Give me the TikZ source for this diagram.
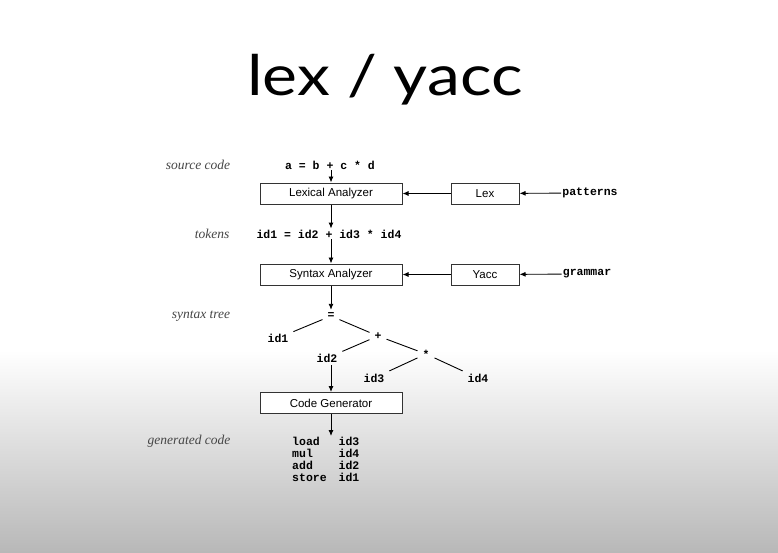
\documentclass[tikz,border=0pt]{standalone}
\usepackage{fontspec}
\setmainfont{Liberation Serif}
\newfontfamily\titlefont{Lato}[FakeStretch=1.18]
\newfontfamily\boxfont{Liberation Sans}
\newfontfamily\codefont{Liberation Mono}
\usetikzlibrary{arrows.meta,positioning}

\definecolor{bgbottom}{RGB}{184,184,184}
\definecolor{lblgray}{RGB}{70,70,70}

\begin{document}
\begin{tikzpicture}[
  x=1pt, y=-1pt,
  lbl/.style={font=\fontsize{13.5}{15}\selectfont\itshape, text=lblgray, inner sep=1pt},
  code/.style={font=\fontsize{11.5}{12}\selectfont\codefont\bfseries, inner sep=1pt},
  tnode/.style={font=\fontsize{11.5}{12}\selectfont\codefont\bfseries, inner sep=3pt},
  box/.style={rectangle, draw=black!80, fill=white, line width=1pt, minimum height=21pt, inner sep=0pt, font=\fontsize{11.5}{13}\selectfont\boxfont},
  arr/.style={-{Latex[length=6pt,width=5pt]}, line width=0.9pt},
  edge/.style={line width=0.9pt, shorten <=2pt, shorten >=2pt}
]
  % background
  \useasboundingbox (0,0) rectangle (778,552);
  \fill[white] (0,0) rectangle (778,351);
  \shade[top color=white, bottom color=bgbottom] (0,350) rectangle (778,552);

  \node[font=\fontsize{56}{64}\selectfont\titlefont, anchor=base] (title) at (385,95) {lex / yacc};

  % phases
  \node[lbl] (srcl) at (198,165) {source code};
  \node[code] (src) at (330,165) {a = b + c * d};
  \node[box, minimum width=142pt] (lexa) at (331,193.5) {Lexical Analyzer};
  \node[box, minimum width=68pt] (lex) at (485,193.5) {Lex};
  \node[code] (pat) at (590,193) {patterns};

  \node[lbl] (tokl) at (212,234) {tokens};
  \node[code] (tok) at (329,234) {id1 = id2 + id3 * id4};
  \node[box, minimum width=142pt] (syn) at (331,274.5) {Syntax Analyzer};
  \node[box, minimum width=68pt] (yacc) at (485,274.5) {Yacc};
  \node[code] (gram) at (587,274) {grammar};

  % syntax tree
  \node[lbl] (treel) at (201,316) {syntax tree};
  \node[tnode] (eq) at (331,316) {=};
  \node[tnode] (id1) at (278,338) {id1};
  \node[tnode] (plus) at (378,336) {+};
  \node[tnode] (id2) at (327,358) {id2};
  \node[tnode] (star) at (426,354) {*};
  \node[tnode] (id3) at (374,378) {id3};
  \node[tnode] (id4) at (478,378) {id4};

  \node[box, minimum width=142pt] (cg) at (331,403) {Code Generator};

  \node[lbl] (genl) at (189,441) {generated code};
  \node[code, anchor=north west] (gen) at (291,436) {%
    \begin{tabular}{@{}l@{\hspace{12pt}}l@{}}
      load & id3\\ mul & id4\\ add & id2\\ store & id1
    \end{tabular}};

  \draw[arr] (lexa.north |- src.south) -- (lexa.north);
  \draw[arr] (lex) -- (lexa);
  \draw[arr] (pat) -- (lex);
  \draw[arr] (lexa.south) -- (lexa.south |- tok.north);
  \draw[arr] (syn.north |- tok.south) -- (syn.north);
  \draw[arr] (yacc) -- (syn);
  \draw[arr] (gram) -- (yacc);
  \draw[arr] (syn) -- (eq);

  \draw[edge] (eq) -- (id1);
  \draw[edge] (eq) -- (plus);
  \draw[edge] (plus) -- (id2);
  \draw[edge] (plus) -- (star);
  \draw[edge] (star) -- (id3);
  \draw[edge] (star) -- (id4);

  \draw[arr] (cg.north |- id2.south) -- (cg.north);
  \draw[arr] (cg.south) -- (cg.south |- gen.north);
\end{tikzpicture}
\end{document}
